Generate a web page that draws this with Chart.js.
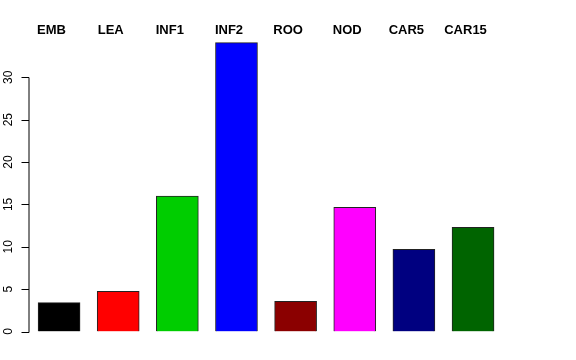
<!DOCTYPE html>
<html>
<head>
<meta charset="utf-8">
<script src="https://cdn.jsdelivr.net/npm/chart.js@4"></script>
<style>
  html, body { margin: 0; padding: 0; background: #fff; }
  #wrap { width: 576px; height: 360px; }
</style>
</head>
<body>
<div id="wrap"><canvas id="bars"></canvas></div>
<script>
const categories = ['EMB', 'LEA', 'INF1', 'INF2', 'ROO', 'NOD', 'CAR5', 'CAR15'];
const values = [3.4, 4.74, 15.99, 34.08, 3.56, 14.66, 9.7, 12.3];
const barColors = ['#000000', '#ff0000', '#00cd00', '#0000ff', '#8b0000', '#ff00ff', '#000080', '#006400'];
const yTicks = [0, 5, 10, 15, 20, 25, 30];

// R-style axis: line only from first to last tick, rotated labels, names on top
const rAxes = {
  id: 'rAxes',
  afterDraw(chart) {
    const { ctx, scales: { x, y } } = chart;
    const axisX = x.left - 0.5;
    ctx.save();
    ctx.strokeStyle = '#000';
    ctx.lineWidth = 1;
    ctx.beginPath();
    ctx.moveTo(axisX, Math.round(y.getPixelForValue(yTicks[0])) + 0.5);
    ctx.lineTo(axisX, Math.round(y.getPixelForValue(yTicks[yTicks.length - 1])) + 0.5);
    for (const t of yTicks) {
      const py = Math.round(y.getPixelForValue(t)) + 0.5;
      ctx.moveTo(axisX, py);
      ctx.lineTo(axisX - 7.5, py);
    }
    ctx.stroke();

    ctx.fillStyle = '#000';
    ctx.font = '12px "Liberation Sans", Arial, sans-serif';
    ctx.textAlign = 'center';
    ctx.textBaseline = 'middle';
    for (const t of yTicks) {
      const py = y.getPixelForValue(t);
      ctx.save();
      ctx.translate(8.5, py);
      ctx.rotate(-Math.PI / 2);
      ctx.fillText(String(t), 0, 0);
      ctx.restore();
    }

    ctx.font = 'bold 13px "Liberation Sans", Arial, sans-serif';
    categories.forEach((c, i) => {
      ctx.fillText(c, x.getPixelForValue(i) - 7.5, 30);
    });
    ctx.restore();
  },
};

new Chart(document.getElementById('bars'), {
  type: 'bar',
  data: {
    labels: categories,
    datasets: [
      {
        data: values,
        backgroundColor: barColors,
        borderColor: '#222',
        borderWidth: 1,
        barThickness: 42,
      },
    ],
  },
  options: {
    responsive: true,
    maintainAspectRatio: false,
    animation: false,
    layout: { padding: { left: 29.5, right: 73.4, top: 34.9, bottom: 28.5 } },
    plugins: {
      legend: { display: false },
      tooltip: { enabled: false },
    },
    scales: {
      x: { display: false, offset: true },
      y: { display: false, min: 0, max: 35 },
    },
  },
  plugins: [rAxes],
});
</script>
</body>
</html>
